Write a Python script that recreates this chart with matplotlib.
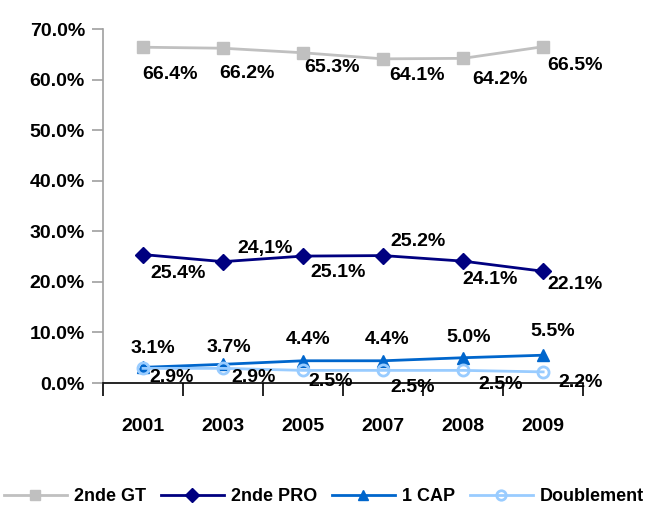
import numpy as np
import matplotlib
matplotlib.use("Agg")
import matplotlib.pyplot as plt
from matplotlib.ticker import FuncFormatter

plt.rcParams['font.family'] = ['Liberation Sans Narrow', 'Liberation Sans', 'DejaVu Sans']
plt.rcParams['font.weight'] = 'bold'

years = ['2001', '2003', '2005', '2007', '2008', '2009']

gt = [66.4, 66.2, 65.3, 64.1, 64.2, 66.5]
pro = [25.4, 24.0, 25.1, 25.2, 24.1, 22.1]
cap = [3.1, 3.7, 4.4, 4.4, 5.0, 5.5]
doub = [2.9, 2.9, 2.5, 2.5, 2.5, 2.2]

gt_lab = ['66.4%', '66.2%', '65.3%', '64.1%', '64.2%', '66.5%']
pro_lab = ['25.4%', '24,1%', '25.1%', '25.2%', '24.1%', '22.1%']
cap_lab = ['3.1%', '3.7%', '4.4%', '4.4%', '5.0%', '5.5%']
doub_lab = ['2.9%', '2.9%', '2.5%', '2.5%', '2.5%', '2.2%']

# label offsets in pixels (dx, dy) from each point
gt_off = [(27, -27), (24, -25), (29, -15), (34, -17), (37, -21), (32, -19)]
pro_off = [(35, -19), (42, 13), (35, -16), (35, 14), (27, -18), (32, -13)]
cap_off = [(10, 19), (6, 17), (5, 21), (4, 21), (5, 20), (10, 24)]
doub_off = [(29, -9), (30, -9), (28, -11), (29, -17), (37, -14), (37, -11)]

fig = plt.figure(figsize=(6.48, 5.09), dpi=100)
ax = fig.add_axes([0.159, 0.2475, 0.741, 0.6955])

x = np.arange(len(years))

ax.plot(x, [v / 100 for v in gt], color='#C0C0C0', marker='s', ms=8, lw=2, label='2nde GT')
ax.plot(x, [v / 100 for v in pro], color='#000080', marker='D', ms=8, lw=2, label='2nde PRO')
ax.plot(x, [v / 100 for v in cap], color='#0066CC', marker='^', ms=9, lw=2, label='1 CAP')
ax.plot(x, [v / 100 for v in doub], color='#99CCFF', marker='o', ms=8, lw=2,
        mfc='none', mew=2, label='Doublement')

for vals, labs, offs in [(gt, gt_lab, gt_off), (pro, pro_lab, pro_off),
                         (cap, cap_lab, cap_off), (doub, doub_lab, doub_off)]:
    for i, (v, l, o) in enumerate(zip(vals, labs, offs)):
        ax.annotate(l, (x[i], v / 100), xytext=o, textcoords='offset pixels',
                    ha='center', va='center', fontsize=14, fontweight='bold')

ax.set_xlim(-0.5, len(years) - 0.5)
ax.set_ylim(0, 0.7)
ax.set_yticks(np.arange(0, 0.71, 0.1))
ax.yaxis.set_major_formatter(FuncFormatter(lambda v, p: '%.1f%%' % (v * 100)))
ax.set_xticks(np.arange(-0.5, len(years), 1))
ax.set_xticklabels([])
ax.set_xticks(x, minor=True)
ax.set_xticklabels(years, minor=True)
ax.tick_params(axis='x', which='minor', length=0, pad=25, labelsize=14)
ax.tick_params(axis='x', which='major', length=9, width=1.2, color='black')
ax.tick_params(axis='y', length=8, width=1.2, color='#A0A0A0', labelsize=14, pad=5)

for s in ['top', 'right']:
    ax.spines[s].set_visible(False)
ax.spines['left'].set_color('#A0A0A0')
ax.spines['left'].set_linewidth(1.2)
ax.spines['bottom'].set_color('black')
ax.spines['bottom'].set_linewidth(1.2)

fig.legend(loc='lower center', bbox_to_anchor=(0.5, -0.025), ncol=4, frameon=False,
           fontsize=13, handlelength=3.5, columnspacing=0.8, handletextpad=0.4,
           markerscale=0.85)

fig.savefig('out.png', dpi=100)
